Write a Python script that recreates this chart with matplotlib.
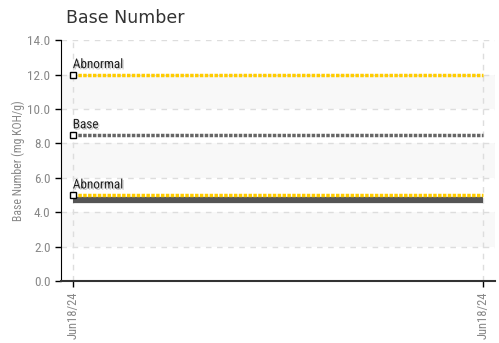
import numpy as np
import matplotlib.pyplot as plt
import matplotlib.patheffects as pe

# Данные
dates = ['Jun18/24', 'Jun18/24']
base_number = [4.7, 4.7]
limit_names = ['Abnormal', 'Base', 'Abnormal']
limit_values = [12.0, 8.5, 5.0]
limit_colors = ['#FFCC00', '#666666', '#FFCC00']
y_ticks = [0, 2, 4, 6, 8, 10, 12, 14]

narrow = ['Roboto Condensed', 'Archivo Narrow', 'DejaVu Sans']

fig = plt.figure(figsize=(4.99, 3.43), dpi=100)
ax = fig.add_axes([0.122, 0.181, 0.870, 0.702])

x = np.arange(len(dates))
ax.set_xlim(-0.029, 1.029)
ax.set_ylim(0, 14)

# Полосы
for i in range(len(y_ticks) - 1):
    if i % 2 == 1:
        ax.axhspan(y_ticks[i], y_ticks[i + 1], color='#F8F8F8', zorder=0, lw=0)

# Сетка
for t in y_ticks[1:]:
    ax.axhline(t, color='#DDDDDD', lw=1, dashes=(4, 4), zorder=1)
for xi in x:
    ax.axvline(xi, color='#DDDDDD', lw=1, dashes=(4, 4), zorder=1)

# Данные
ax.plot(x, base_number, color='#555555', lw=4.5, zorder=3, solid_capstyle='butt')

# Пределы
for name, val, col in zip(limit_names, limit_values, limit_colors):
    ax.plot(x, [val] * len(x), color=col, lw=2.5, linestyle=(0, (1, 0.4)),
            marker='s', markevery=[0], markersize=4, markerfacecolor='white',
            markeredgecolor='black', markeredgewidth=1, zorder=4)
    ax.text(x[0], val + 0.2, name, family=narrow, fontsize=9.5, color='#222222',
            ha='left', va='bottom', zorder=5,
            path_effects=[pe.withSimplePatchShadow(offset=(1, -1), shadow_rgbFace='#999999', alpha=0.5)])

# Оси
for s in ['top', 'right']:
    ax.spines[s].set_visible(False)
ax.spines['left'].set_color('black')
ax.spines['bottom'].set_color('#333333')
ax.spines['bottom'].set_linewidth(1.5)

ax.set_yticks(y_ticks)
ax.set_yticklabels([f'{t:.1f}' for t in y_ticks], family=narrow, fontsize=9.5, color='#888888')
ax.set_xticks(x)
ax.set_xticklabels(dates, rotation=90, family=narrow, fontsize=9, color='#888888')
ax.tick_params(axis='both', direction='out', length=4, width=1, color='black')

ax.set_ylabel('Base Number (mg KOH/g)', family=narrow, fontsize=8.5, color='#888888', labelpad=2)
fig.text(0.132, 0.92, 'Base Number', fontsize=12.5, color='#333333', ha='left', va='bottom')

fig.savefig('out.png', dpi=100)
